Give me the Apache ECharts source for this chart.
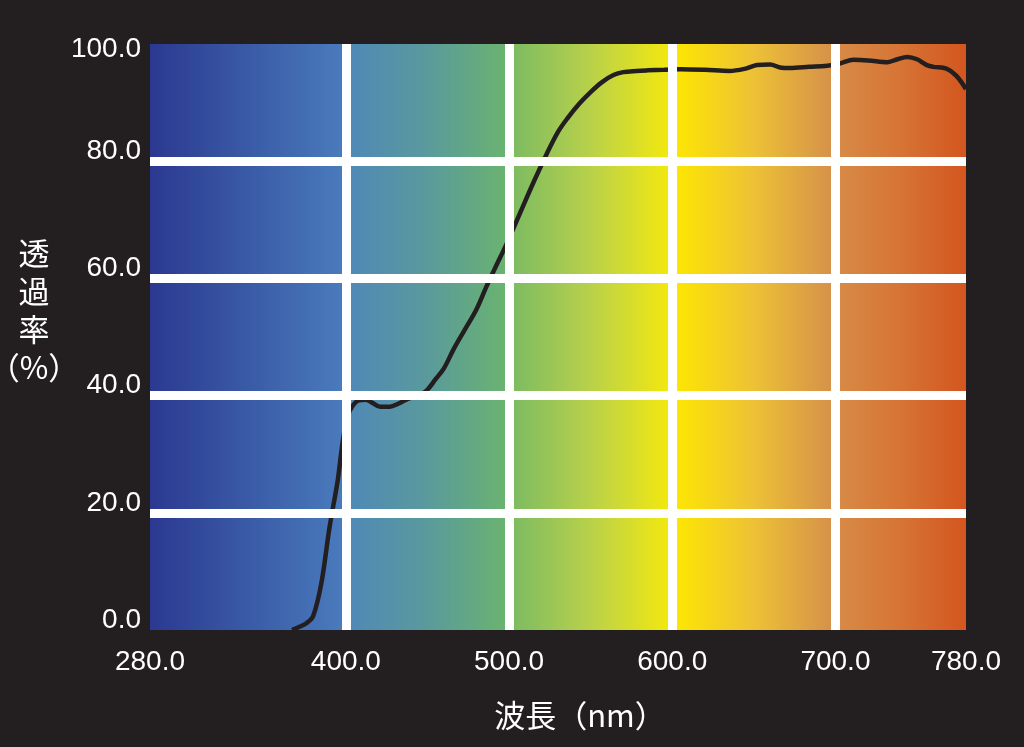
<!DOCTYPE html>
<html>
<head>
<meta charset="utf-8">
<script src="https://cdn.jsdelivr.net/npm/echarts@6/dist/echarts.min.js"></script>
<style>
html,body{margin:0;padding:0;background:#231f20;}
#chart{width:1024px;height:747px;}
</style>
</head>
<body>
<div id="chart"></div>
<script>
// ---- data ----
const wavelength = [367, 372, 376, 380, 385, 390, 395, 398, 401, 404, 408, 412, 416, 421, 427, 432, 437, 442, 446, 450, 455, 460, 466, 473, 480, 486, 491, 499, 507, 515, 523, 530, 536, 543, 550, 557, 564, 570, 578, 585, 595, 605, 620, 635, 645, 652, 660, 666, 672, 684, 695, 703, 711, 720, 732, 738, 744, 750, 756, 760, 768, 774, 780];
const transmittance = [0, 0.6, 1.2, 2.4, 8, 17.5, 25.5, 32, 36.4, 38.2, 39.2, 39.3, 38.8, 38.1, 38.1, 38.6, 39.3, 39.8, 40.2, 41, 42.8, 44.6, 47.9, 51.3, 54.7, 58.5, 61.5, 66.2, 71.3, 76.4, 81.2, 85, 87.4, 89.8, 91.8, 93.5, 94.7, 95.2, 95.4, 95.5, 95.6, 95.7, 95.6, 95.4, 95.8, 96.4, 96.5, 96.0, 95.9, 96.1, 96.3, 96.7, 97.3, 97.2, 96.9, 97.4, 97.8, 97.4, 96.4, 96.1, 95.8, 94.6, 92.3];
const xTickLabels = [280, 400, 500, 600, 700, 780];
const yTickLabels = [0, 20, 40, 60, 80, 100];
const bandEdges = [280, 400, 500, 600, 700, 780];
const xGridValues = [400, 500, 600, 700];
const yGridValues = [20, 40, 60, 80];
const xName = '波長（nm）';
const yName = '透\n過\n率\n（%）';

// ---- styles ----
const bandColors = [
  ['#2b3990', '#3a5aa6', '#4a7cbd'],
  ['#4f88b8', '#5a9a9c', '#6bb46e'],
  ['#7aba63', '#b9d14a', '#f5e90d'],
  ['#fde800', '#edc136', '#d48f4b'],
  ['#d88b47', '#d67435', '#d3561f']
];
const numFont = '"Liberation Sans", Arial, sans-serif';
const cjkFont = '"Noto Sans CJK JP", "Liberation Sans", sans-serif';

const chart = echarts.init(document.getElementById('chart'), null, {renderer: 'canvas'});

const areas = [];
for (let i = 0; i < bandEdges.length - 1; i++) {
  const c = bandColors[i];
  areas.push([
    {xAxis: bandEdges[i], yAxis: 0, itemStyle: {color: new echarts.graphic.LinearGradient(0, 0, 1, 0, [
      {offset: 0, color: c[0]}, {offset: 0.5, color: c[1]}, {offset: 1, color: c[2]}
    ])}},
    {xAxis: bandEdges[i + 1], yAxis: 100}
  ]);
}
const gridLines = xGridValues.map(v => ({xAxis: v})).concat(yGridValues.map(v => ({yAxis: v})));

const option = {
  backgroundColor: '#231f20',
  animation: false,
  grid: {left: 150, right: 58, top: 44, bottom: 117, containLabel: false, outerBoundsMode: 'none'},
  graphic: [{
    type: 'text', x: 34, y: 234, silent: true,
    style: {text: yName, fill: '#ffffff', font: '31px ' + cjkFont, lineHeight: 38, align: 'center', verticalAlign: 'top'}
  }],
  xAxis: {
    type: 'value', min: 280, max: 780, interval: 20,
    name: xName, nameLocation: 'middle', nameGap: 70,
    nameTextStyle: {color: '#ffffff', fontSize: 31, fontFamily: cjkFont, padding: [0, 0, 0, 44]},
    axisLine: {show: false}, axisTick: {show: false}, splitLine: {show: false},
    axisLabel: {
      color: '#ffffff', fontSize: 28, fontFamily: numFont, margin: 18,
      formatter: v => xTickLabels.indexOf(v) >= 0 ? v.toFixed(1) : ''
    }
  },
  yAxis: {
    type: 'value', min: 0, max: 100, interval: 20,
    axisLine: {show: false}, axisTick: {show: false}, splitLine: {show: false},
    axisLabel: {
      color: '#ffffff', fontSize: 28, fontFamily: numFont, margin: 9,
      formatter: v => yTickLabels.indexOf(v) >= 0 ? (v === 100 ? '{t|' + v.toFixed(1) + '}' : '{n|' + v.toFixed(1) + '}') : '',
      rich: {
        n: {color: '#ffffff', fontSize: 28, fontFamily: numFont, padding: [0, 0, 20, 0]},
        t: {color: '#ffffff', fontSize: 28, fontFamily: numFont, padding: [10, 0, 0, 0]}
      }
    }
  },
  series: [
    {
      type: 'line', z: 1, data: [], silent: true,
      markArea: {silent: true, label: {show: false}, data: areas}
    },
    {
      type: 'line', z: 2, data: [], silent: true,
      markLine: {silent: true, symbol: 'none', label: {show: false},
        lineStyle: {color: '#ffffff', width: 9, type: 'solid'}, data: gridLines}
    },
    {
      type: 'line', z: 3, showSymbol: false, smooth: 0.35,
      data: wavelength.map((w, i) => [w, transmittance[i]]),
      lineStyle: {color: '#231f20', width: 4.5},
      itemStyle: {color: '#231f20'}
    }
  ]
};
chart.setOption(option);
</script>
</body>
</html>
